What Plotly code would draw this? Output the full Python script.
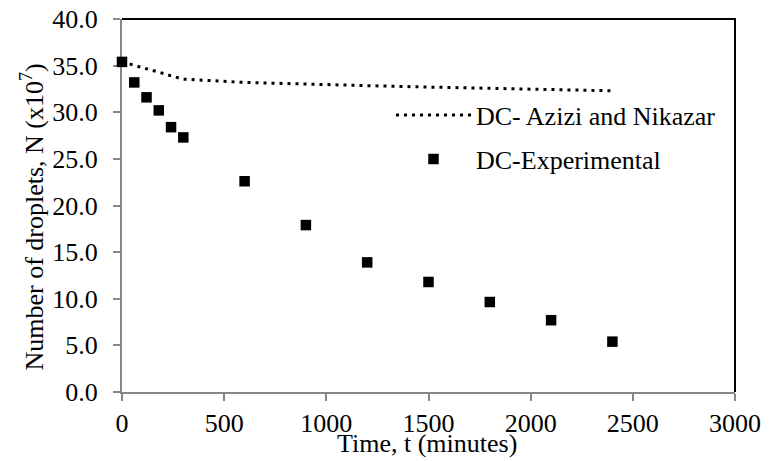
import plotly.graph_objects as go

# Sampling times (minutes)
time_min = [0, 60, 120, 180, 240, 300, 600, 900, 1200, 1500, 1800, 2100, 2400]

# Number of droplets (x10^7)
n_experimental = [35.4, 33.2, 31.6, 30.2, 28.4, 27.3, 22.6, 17.9, 13.9, 11.8, 9.65, 7.7, 5.4]
n_azizi_nikazar = [35.4, 35.05, 34.7, 34.3, 33.9, 33.55, 33.2, 33.0, 32.85, 32.7, 32.55, 32.4, 32.3]

x_ticks = [0, 500, 1000, 1500, 2000, 2500, 3000]
y_ticks = [0, 5, 10, 15, 20, 25, 30, 35, 40]

FONT = "Liberation Serif, Times New Roman, serif"
FS = 26
W, H = 771, 461
AXIS_GREY = "#878787"

fig = go.Figure()

fig.add_trace(go.Scatter(
    x=time_min, y=n_azizi_nikazar,
    mode="lines",
    name="DC- Azizi and Nikazar",
    line=dict(color="black", width=3, dash="3px,5px"),
    legend="legend",
    cliponaxis=False,
))

fig.add_trace(go.Scatter(
    x=time_min, y=n_experimental,
    mode="markers",
    name="DC-Experimental",
    marker=dict(symbol="square", size=10.5, color="black"),
    legend="legend2",
    cliponaxis=False,
))

axis_common = dict(
    showgrid=False,
    zeroline=False,
    showline=True,
    linecolor=AXIS_GREY,
    linewidth=2,
    ticks="outside",
    ticklen=7,
    tickwidth=2,
    tickcolor=AXIS_GREY,
    tickfont=dict(family=FONT, size=FS, color="black"),
    layer="below traces",
    automargin=False,
)

fig.update_xaxes(range=[0, 3000], tickvals=x_ticks, ticktext=[str(v) for v in x_ticks],
                 tickangle=0, ticklabelstandoff=0, **axis_common)
fig.update_yaxes(range=[0, 40], tickvals=y_ticks, ticktext=[f"{v:.1f}" for v in y_ticks],
                 ticklabelstandoff=10, **axis_common)

legend_common = dict(
    xref="container", yref="container",
    xanchor="left", yanchor="middle",
    bgcolor="rgba(0,0,0,0)", borderwidth=0,
    itemwidth=75,
    font=dict(family=FONT, size=FS, color="black"),
)

fig.update_layout(
    width=W, height=H,
    margin=dict(l=122, r=36, t=19, b=69, autoexpand=False),
    paper_bgcolor="white",
    plot_bgcolor="white",
    font=dict(family=FONT, size=FS, color="black"),
    showlegend=True,
    legend=dict(x=391 / W, y=1 - 115 / H, **legend_common),
    legend2=dict(x=391 / W, y=1 - 159 / H, **legend_common),
    annotations=[
        dict(text="Time, t (minutes)", xref="paper", yref="paper",
             x=0.498, y=-0.139, xanchor="center", yanchor="middle",
             showarrow=False, font=dict(family=FONT, size=FS, color="black")),
        dict(text="Number of droplets, N (x10<sup>7</sup>)", xref="paper", yref="paper",
             x=-0.146, y=0.469, xanchor="center", yanchor="middle", textangle=-90,
             showarrow=False, font=dict(family=FONT, size=FS, color="black")),
    ],
    shapes=[
        # top and right frame of the plot area
        dict(type="path", xref="paper", yref="paper",
             path="M 0,1 L 1,1 L 1,0", line=dict(color="black", width=2)),
    ],
)

fig.write_html("out.html")
